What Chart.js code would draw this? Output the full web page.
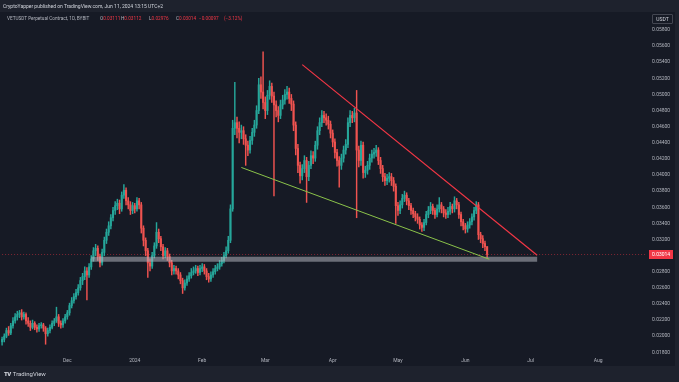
<!DOCTYPE html>
<html>
<head>
<meta charset="utf-8">
<script src="https://cdn.jsdelivr.net/npm/chart.js@4.4.1/dist/chart.umd.min.js"></script>
<style>
  body { margin: 0; background: #1e222d; width: 679px; height: 382px; overflow: hidden; font-family: Roboto, "Liberation Sans", sans-serif; }
  #pane { position: absolute; left: 0; top: 12px; width: 675px; height: 354px; background: #161a25; }
  #chart { position: absolute; left: 0; top: 0; }
  .txt { position: absolute; white-space: nowrap; font-size: 5px; line-height: 6px; }
  .hdr { color: #d1d4dc; }
  .lg { color: #b2b5be; font-size: 4.7px; }
  .lg b { font-weight: normal; color: #b2b5be; }
  .red { color: #f23645; }
  #usdt { position: absolute; left: 652px; top: 14px; width: 19px; height: 8px; border: 1px solid #434651; border-radius: 1px; color: #d1d4dc; font-size: 5px; line-height: 8px; text-align: center; }
  #logo { position: absolute; left: 4px; top: 370px; color: #d1d4dc; font-size: 6px; line-height: 7px; }
  #logo b { font-weight: 900; letter-spacing: -0.5px; margin-right: 2px; }
</style>
</head>
<body>
<div id="pane"></div>
<canvas id="chart" width="679" height="382"></canvas>
<div class="txt hdr" style="left:3px;top:3px">CryptoYapper published on TradingView.com, Jun 11, 2024 13:15 UTC+2</div>
<div class="txt lg" style="left:7px;top:16px">VETUSDT Perpetual Contract, 1D, BYBIT</div>
<div class="txt lg" style="left:100px;top:16px"><b>O</b><span class="red">0.03111</span></div>
<div class="txt lg" style="left:121px;top:16px"><b>H</b><span class="red">0.03112</span></div>
<div class="txt lg" style="left:149px;top:16px"><b>L</b><span class="red">0.02976</span></div>
<div class="txt lg" style="left:176px;top:16px"><b>C</b><span class="red">0.03014</span></div>
<div class="txt lg red" style="left:199px;top:16px">−0.00097</div>
<div class="txt lg red" style="left:224px;top:16px">(−3.12%)</div>
<div id="usdt">USDT</div>
<div id="logo"><b>TV</b>TradingView</div>

<script>
// daily candles, VETUSDT, starting 2023-11-01
const startDate = Date.UTC(2023, 10, 1);
const dayCount = 297; // axis runs into mid August

const closes = [
  0.0196, 0.0200, 0.0207, 0.0204, 0.0213, 0.0219, 0.0224, 0.0227, 0.0229, 0.0224,
  0.0227, 0.0219, 0.0216, 0.0211, 0.0216, 0.0211, 0.0209, 0.0213, 0.0214, 0.0210,
  0.0203, 0.0207, 0.0211, 0.0216, 0.0219, 0.0224, 0.0216, 0.0214, 0.0219, 0.0224,
  0.0229, 0.0238, 0.0244, 0.0249, 0.0254, 0.0260, 0.0269, 0.0274, 0.0281, 0.0276,
  0.0286, 0.0296, 0.0306, 0.0309, 0.0299, 0.0291, 0.0304, 0.0319, 0.0329, 0.0337,
  0.0347, 0.0356, 0.0362, 0.0365, 0.0358, 0.0375, 0.0381, 0.0368, 0.0363, 0.0356,
  0.0362, 0.0358, 0.0368, 0.0363, 0.0334, 0.0319, 0.0306, 0.0291, 0.0287, 0.0300,
  0.0312, 0.0329, 0.0321, 0.0311, 0.0300, 0.0306, 0.0299, 0.0291, 0.0281, 0.0284,
  0.0281, 0.0276, 0.0269, 0.0260, 0.0266, 0.0271, 0.0275, 0.0279, 0.0281, 0.0284,
  0.0279, 0.0284, 0.0286, 0.0281, 0.0274, 0.0271, 0.0276, 0.0280, 0.0284, 0.0286,
  0.0290, 0.0294, 0.0300, 0.0306, 0.0319, 0.0358, 0.0458, 0.0465, 0.0458, 0.0453,
  0.0455, 0.0445, 0.0437, 0.0431, 0.0443, 0.0453, 0.0462, 0.0480, 0.0512, 0.0503,
  0.0490, 0.0480, 0.0499, 0.0510, 0.0498, 0.0487, 0.0480, 0.0474, 0.0487, 0.0493,
  0.0500, 0.0503, 0.0495, 0.0488, 0.0462, 0.0433, 0.0412, 0.0399, 0.0408, 0.0418,
  0.0398, 0.0412, 0.0424, 0.0421, 0.0437, 0.0455, 0.0465, 0.0474, 0.0471, 0.0468,
  0.0463, 0.0452, 0.0441, 0.0428, 0.0418, 0.0412, 0.0421, 0.0431, 0.0438, 0.0465,
  0.0474, 0.0471, 0.0477, 0.0431, 0.0418, 0.0437, 0.0403, 0.0406, 0.0412, 0.0421,
  0.0426, 0.0428, 0.0431, 0.0418, 0.0408, 0.0398, 0.0393, 0.0396, 0.0398, 0.0393,
  0.0386, 0.0362, 0.0356, 0.0363, 0.0371, 0.0375, 0.0368, 0.0362, 0.0356, 0.0352,
  0.0348, 0.0345, 0.0338, 0.0335, 0.0341, 0.0351, 0.0356, 0.0361, 0.0356, 0.0351,
  0.0358, 0.0363, 0.0358, 0.0353, 0.0351, 0.0355, 0.0361, 0.0358, 0.0368, 0.0363,
  0.0351, 0.0342, 0.0337, 0.0333, 0.0338, 0.0342, 0.0348, 0.0356, 0.0363, 0.0326,
  0.0321, 0.0315, 0.03111, 0.03014
];

const highs = [
  0.0199, 0.0203, 0.0210, 0.0212, 0.0216, 0.0223, 0.0228, 0.0231, 0.0232, 0.0233,
  0.0230, 0.0229, 0.0223, 0.0219, 0.0220, 0.0218, 0.0214, 0.0216, 0.0217, 0.0216,
  0.0212, 0.0210, 0.0214, 0.0219, 0.0222, 0.0236, 0.0227, 0.0219, 0.0222, 0.0227,
  0.0232, 0.0241, 0.0248, 0.0253, 0.0258, 0.0264, 0.0273, 0.0278, 0.0286, 0.0285,
  0.0290, 0.0300, 0.0310, 0.0314, 0.0312, 0.0302, 0.0308, 0.0323, 0.0333, 0.0342,
  0.0351, 0.0360, 0.0367, 0.0370, 0.0369, 0.0379, 0.0388, 0.0384, 0.0372, 0.0367,
  0.0366, 0.0365, 0.0372, 0.0371, 0.0366, 0.0337, 0.0322, 0.0309, 0.0296, 0.0304,
  0.0316, 0.0341, 0.0333, 0.0324, 0.0314, 0.0310, 0.0309, 0.0302, 0.0294, 0.0288,
  0.0287, 0.0284, 0.0279, 0.0272, 0.0270, 0.0275, 0.0279, 0.0284, 0.0286, 0.0288,
  0.0287, 0.0288, 0.0290, 0.0289, 0.0284, 0.0278, 0.0280, 0.0284, 0.0288, 0.0290,
  0.0294, 0.0298, 0.0304, 0.0311, 0.0324, 0.0363, 0.0468, 0.0515, 0.0472, 0.0466,
  0.0462, 0.0460, 0.0450, 0.0442, 0.0448, 0.0458, 0.0468, 0.0486, 0.0520, 0.0522,
  0.0553, 0.0497, 0.0505, 0.0517, 0.0514, 0.0503, 0.0492, 0.0485, 0.0493, 0.0499,
  0.0506, 0.0510, 0.0508, 0.0500, 0.0492, 0.0466, 0.0438, 0.0416, 0.0413, 0.0424,
  0.0422, 0.0417, 0.0430, 0.0429, 0.0442, 0.0460, 0.0471, 0.0480, 0.0479, 0.0476,
  0.0473, 0.0467, 0.0456, 0.0445, 0.0432, 0.0423, 0.0426, 0.0436, 0.0444, 0.0471,
  0.0480, 0.0479, 0.0483, 0.0505, 0.0436, 0.0442, 0.0441, 0.0411, 0.0417, 0.0426,
  0.0431, 0.0433, 0.0437, 0.0434, 0.0422, 0.0412, 0.0402, 0.0401, 0.0403, 0.0402,
  0.0397, 0.0389, 0.0366, 0.0368, 0.0376, 0.0380, 0.0378, 0.0371, 0.0365, 0.0359,
  0.0355, 0.0352, 0.0348, 0.0341, 0.0345, 0.0355, 0.0361, 0.0366, 0.0364, 0.0359,
  0.0363, 0.0372, 0.0366, 0.0361, 0.0357, 0.0360, 0.0366, 0.0364, 0.0373, 0.0371,
  0.0366, 0.0354, 0.0345, 0.0340, 0.0342, 0.0346, 0.0352, 0.0360, 0.0367, 0.0366,
  0.0329, 0.0325, 0.0318, 0.03112
];

const lows = [
  0.0189, 0.0193, 0.0198, 0.0201, 0.0202, 0.0210, 0.0216, 0.0220, 0.0223, 0.0220,
  0.0221, 0.0215, 0.0212, 0.0207, 0.0209, 0.0208, 0.0205, 0.0206, 0.0210, 0.0206,
  0.0190, 0.0200, 0.0204, 0.0209, 0.0213, 0.0217, 0.0212, 0.0210, 0.0211, 0.0216,
  0.0221, 0.0226, 0.0235, 0.0241, 0.0246, 0.0251, 0.0257, 0.0264, 0.0270, 0.0245,
  0.0273, 0.0283, 0.0293, 0.0300, 0.0294, 0.0286, 0.0288, 0.0300, 0.0315, 0.0325,
  0.0333, 0.0343, 0.0351, 0.0357, 0.0352, 0.0355, 0.0371, 0.0363, 0.0358, 0.0351,
  0.0352, 0.0353, 0.0355, 0.0358, 0.0328, 0.0312, 0.0300, 0.0273, 0.0281, 0.0284,
  0.0297, 0.0309, 0.0316, 0.0306, 0.0296, 0.0297, 0.0294, 0.0286, 0.0276, 0.0277,
  0.0277, 0.0271, 0.0265, 0.0253, 0.0257, 0.0263, 0.0268, 0.0272, 0.0276, 0.0278,
  0.0275, 0.0276, 0.0280, 0.0277, 0.0270, 0.0267, 0.0268, 0.0273, 0.0277, 0.0281,
  0.0283, 0.0287, 0.0291, 0.0297, 0.0303, 0.0316, 0.0355, 0.0450, 0.0446, 0.0440,
  0.0445, 0.0438, 0.0412, 0.0424, 0.0427, 0.0438, 0.0448, 0.0458, 0.0476, 0.0495,
  0.0482, 0.0470, 0.0475, 0.0494, 0.0490, 0.0374, 0.0472, 0.0466, 0.0470, 0.0482,
  0.0488, 0.0494, 0.0489, 0.0480, 0.0455, 0.0425, 0.0403, 0.0390, 0.0394, 0.0403,
  0.0366, 0.0393, 0.0408, 0.0414, 0.0417, 0.0432, 0.0450, 0.0460, 0.0465, 0.0462,
  0.0457, 0.0446, 0.0435, 0.0421, 0.0411, 0.0385, 0.0407, 0.0416, 0.0426, 0.0434,
  0.0460, 0.0465, 0.0466, 0.0347, 0.0410, 0.0412, 0.0396, 0.0397, 0.0401, 0.0407,
  0.0416, 0.0421, 0.0423, 0.0413, 0.0402, 0.0392, 0.0387, 0.0388, 0.0391, 0.0387,
  0.0380, 0.0340, 0.0350, 0.0352, 0.0359, 0.0367, 0.0363, 0.0357, 0.0351, 0.0347,
  0.0343, 0.0340, 0.0333, 0.0330, 0.0331, 0.0338, 0.0347, 0.0352, 0.0351, 0.0346,
  0.0348, 0.0354, 0.0353, 0.0348, 0.0346, 0.0347, 0.0351, 0.0353, 0.0354, 0.0358,
  0.0346, 0.0337, 0.0332, 0.0328, 0.0329, 0.0334, 0.0338, 0.0344, 0.0352, 0.0320,
  0.0316, 0.0310, 0.0306, 0.02976
];

const firstOpen = 0.0193;
// 24/7 market: each day opens where the previous one closed
const opens = closes.map((c, i) => i === 0 ? firstOpen : closes[i - 1]);

// time axis and price axis labels
const monthTickDates = ['2023-12-01', '2024-01-01', '2024-02-01', '2024-03-01', '2024-04-01', '2024-05-01', '2024-06-01', '2024-07-01', '2024-08-01'];
const monthTickLabels = ['Dec', '2024', 'Feb', 'Mar', 'Apr', 'May', 'Jun', 'Jul', 'Aug'];
const priceTicks = [0.058, 0.056, 0.054, 0.052, 0.050, 0.048, 0.046, 0.044, 0.042, 0.040, 0.038,
  0.036, 0.034, 0.032, 0.030, 0.028, 0.026, 0.024, 0.022, 0.020, 0.018];

// drawings on the chart
const upperTrendDates = ['2024-03-18', '2024-07-04'];
const upperTrendPrices = [0.05370, 0.03004];
const lowerTrendDates = ['2024-02-19', '2024-06-12'];
const lowerTrendPrices = [0.04094, 0.02955];
const supportDates = ['2023-12-12', '2024-07-04'];
const supportPrice = 0.02956;
const lastPrice = 0.03014;

const upColor = '#26a69a';
const downColor = '#ef5350';

const labels = [];
for (let i = 0; i < dayCount; i++) {
  labels.push(new Date(startDate + i * 86400000).toISOString().slice(0, 10));
}

const candleColors = closes.map((c, i) => c >= opens[i] ? upColor : downColor);

// red box with the last price on the price axis
const lastPriceLabel = {
  id: 'lastPriceLabel',
  afterDraw(chart) {
    const ctx = chart.ctx;
    const y = chart.scales.y.getPixelForValue(lastPrice);
    ctx.save();
    ctx.fillStyle = '#f23645';
    ctx.fillRect(649, Math.round(y) - 4, 24, 9);
    ctx.fillStyle = '#ffffff';
    ctx.font = '5px Roboto';
    ctx.textBaseline = 'middle';
    ctx.textAlign = 'left';
    ctx.fillText(lastPrice.toFixed(5), 652, Math.round(y) + 0.5);
    ctx.restore();
  }
};

new Chart(document.getElementById('chart'), {
  type: 'bar',
  data: {
    labels: labels,
    datasets: [
      {
        type: 'line',
        data: [{ x: labels[0], y: lastPrice }, { x: labels[dayCount - 1], y: lastPrice }],
        borderColor: 'rgba(242, 54, 69, 0.7)',
        borderWidth: 0.7,
        borderDash: [1, 2],
        pointRadius: 0,
        order: 5
      },
      {
        label: 'wicks',
        data: lows.map((l, i) => [l, highs[i]]),
        backgroundColor: candleColors,
        barThickness: 0.8,
        grouped: false,
        order: 4
      },
      {
        label: 'bodies',
        data: opens.map((o, i) => [o, closes[i]]),
        backgroundColor: candleColors,
        barThickness: 1.4,
        minBarLength: 1,
        grouped: false,
        order: 3
      },
      {
        type: 'line',
        data: supportDates.map(d => ({ x: d, y: supportPrice })),
        borderColor: 'rgba(178, 181, 190, 0.55)',
        borderWidth: 5,
        borderCapStyle: 'butt',
        pointRadius: 0,
        order: 2
      },
      {
        type: 'line',
        data: upperTrendDates.map((d, i) => ({ x: d, y: upperTrendPrices[i] })),
        borderColor: '#f23645',
        borderWidth: 1.2,
        pointRadius: 0,
        order: 1
      },
      {
        type: 'line',
        data: lowerTrendDates.map((d, i) => ({ x: d, y: lowerTrendPrices[i] })),
        borderColor: '#8bc34a',
        borderWidth: 1,
        pointRadius: 0,
        order: 1
      }
    ]
  },
  options: {
    responsive: false,
    animation: false,
    devicePixelRatio: 1,
    layout: { padding: { top: 13, left: 1, right: 0, bottom: 16 } },
    plugins: {
      legend: { display: false },
      tooltip: { enabled: false }
    },
    scales: {
      x: {
        type: 'category',
        offset: true,
        grid: { display: false, drawTicks: false },
        border: { display: false },
        afterBuildTicks: scale => {
          scale.ticks = monthTickDates.map(d => ({ value: labels.indexOf(d) }));
        },
        afterFit: scale => { scale.height = 11; },
        ticks: {
          autoSkip: false,
          maxRotation: 0,
          padding: 3,
          color: '#b2b5be',
          font: { size: 5, family: 'Roboto' },
          callback: (value) => monthTickLabels[monthTickDates.indexOf(labels[value])]
        }
      },
      y: {
        position: 'right',
        min: 0.017665,
        max: 0.060109,
        grid: { display: false, drawTicks: false },
        border: { display: false },
        afterBuildTicks: scale => {
          scale.ticks = priceTicks.map(v => ({ value: v }));
        },
        afterFit: scale => { scale.width = 32; },
        ticks: {
          padding: 5,
          color: '#b2b5be',
          font: { size: 5, family: 'Roboto' },
          callback: v => v.toFixed(5)
        }
      }
    }
  },
  plugins: [lastPriceLabel]
});
</script>
</body>
</html>
